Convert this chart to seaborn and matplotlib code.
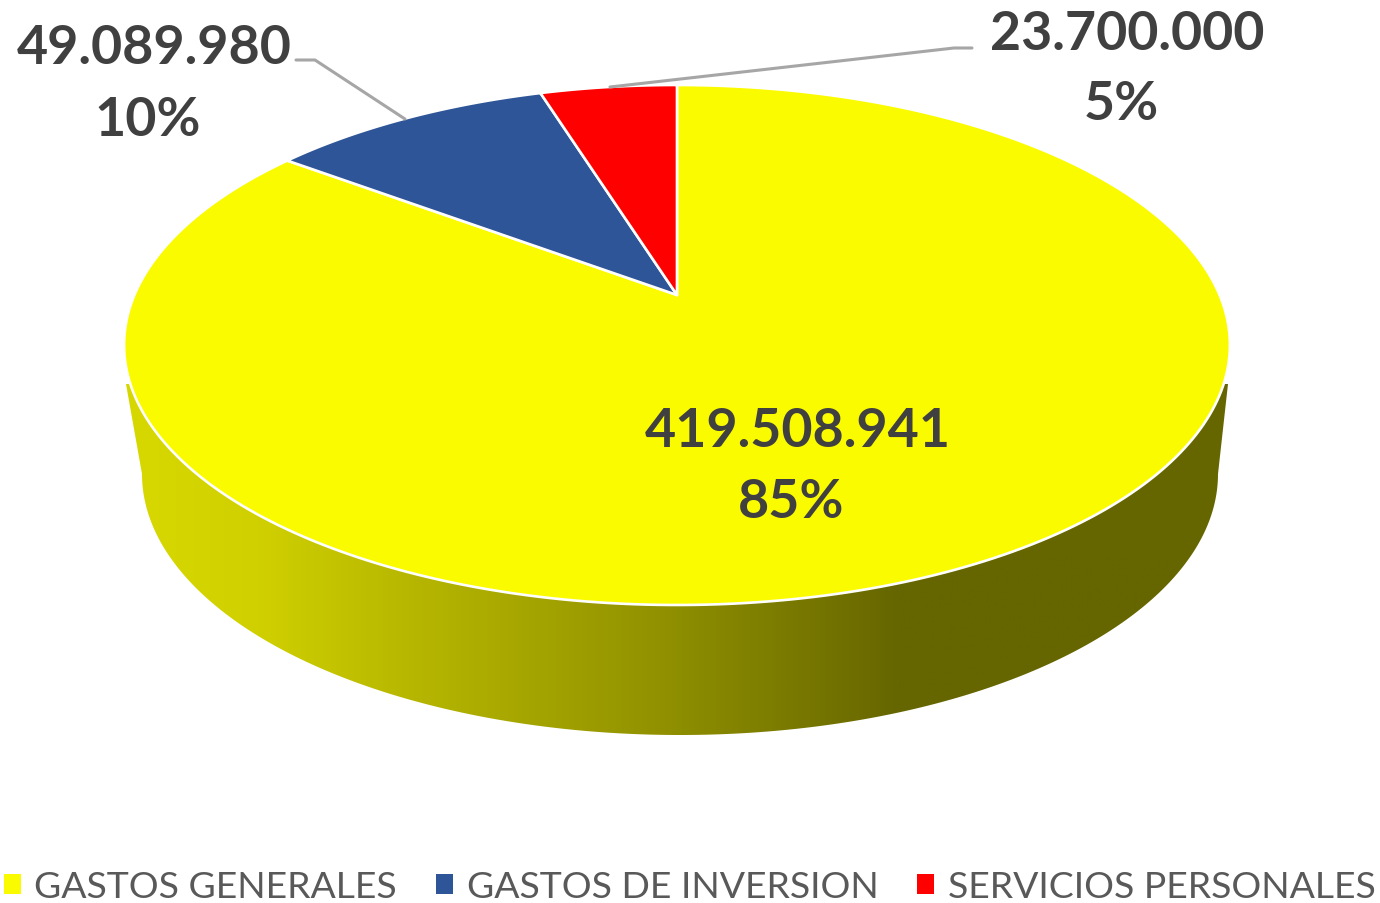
import numpy as np
import matplotlib
matplotlib.use("Agg")
import matplotlib.pyplot as plt
from matplotlib.colors import LinearSegmentedColormap
from matplotlib.patches import Polygon
import seaborn as sns

# data
categories = ["GASTOS GENERALES", "GASTOS DE INVERSION", "SERVICIOS PERSONALES"]
values = [419508941, 49089980, 23700000]
slice_colors = ["#FBFB00", "#2E5597", "#FF0000"]

# where the two text lines of each label sit, in image pixels
value_pos = [(798, 432), (154, 49), (1127, 35)]
pct_pos = [(791, 502), (148, 120), (1121, 105)]

sns.set_theme(style="white")
plt.rcParams["font.family"] = ["Lato", "DejaVu Sans"]
palette = sns.color_palette(slice_colors)

fig = plt.figure(figsize=(13.8, 9.04), dpi=100)
ax = fig.add_axes([0, 0, 1, 1])

# 1) let pie work out the slice angles
wedges, _ = ax.pie(values, colors=palette, startangle=90, counterclock=False)
for w in wedges:
    w.set_visible(False)

# axes in image pixels from here on
ax.set_aspect("auto")
ax.set_xlim(0, 1380)
ax.set_ylim(904, 0)
ax.set_axis_off()


# perspective view of the unit circle, apex lands above the ellipse centre
def tilt(u, v):
    c = 0.1923
    d = 1 + c * v
    return 677 + 542.6 * u / d, 346 - (260 * v + 50) / d


# 2) side wall with gradient, under the top face
t = np.radians(np.linspace(180, 0, 240))
wall_x = 680 + 538 * np.cos(t)
wall_y = 475 + 261 * np.sin(t)
wall_xy = np.vstack([[[126, 385]],
                     np.column_stack([wall_x, wall_y]),
                     [[1228, 385]]])
wall = Polygon(wall_xy, closed=True, facecolor="none", edgecolor="none")
ax.add_patch(wall)
stops = [(0.0, "#D8D800"), (0.12, "#D0D000"), (0.25, "#B8B800"),
         (0.48, "#929200"), (0.70, "#666600"), (1.0, "#666600")]
cmap = LinearSegmentedColormap.from_list("wall", stops)
img = ax.imshow(np.linspace(0, 1, 512)[None, :], extent=(124, 1230, 740, 380),
                cmap=cmap, aspect="auto", zorder=1)
img.set_clip_path(wall)
ax.set_xlim(0, 1380)
ax.set_ylim(904, 0)

# 3) top face, the pie slices pushed through the tilt
faces = []
for w, col in zip(wedges, palette):
    a = np.radians(np.linspace(w.theta1, w.theta2, 300))
    x, y = tilt(np.cos(a), np.sin(a))
    ax_, ay_ = tilt(0.0, 0.0)
    xy = np.column_stack([np.r_[ax_, x], np.r_[ay_, y]])
    p = Polygon(xy, closed=True, facecolor=col, edgecolor="white", linewidth=1.9,
                joinstyle="round", zorder=2)
    ax.add_patch(p)
    faces.append(p)

# 4) leader lines
ax.plot([296, 315, 405], [61, 61, 120], color="#A6A6A6", lw=2.2, zorder=3)
ax.plot([972, 954, 610], [49, 49, 88], color="#A6A6A6", lw=2.2, zorder=3)

# 5) labels
total = sum(values)
for v, vp, pp in zip(values, value_pos, pct_pos):
    ax.text(vp[0], vp[1], f"{v:,}".replace(",", "."), ha="center", va="center",
            fontsize=38.7, fontweight="bold", color="#404040", zorder=4)
    ax.text(pp[0], pp[1], f"{v / total:.0%}", ha="center", va="center",
            fontsize=38.7, fontweight="bold", color="#404040", zorder=4)

# 6) legend along the bottom
leg = ax.legend(faces, categories, ncol=3, loc="lower left",
                bbox_to_anchor=(0.003, 0.0), bbox_transform=ax.transAxes,
                frameon=False, fontsize=26.9, labelcolor="#595959",
                handlelength=0.44, handleheight=0.44, handletextpad=0.37,
                columnspacing=1.05, borderpad=0, borderaxespad=0)
for h in leg.legend_handles:
    h.set_edgecolor("none")

fig.savefig("out.png", dpi=100, facecolor="white")
